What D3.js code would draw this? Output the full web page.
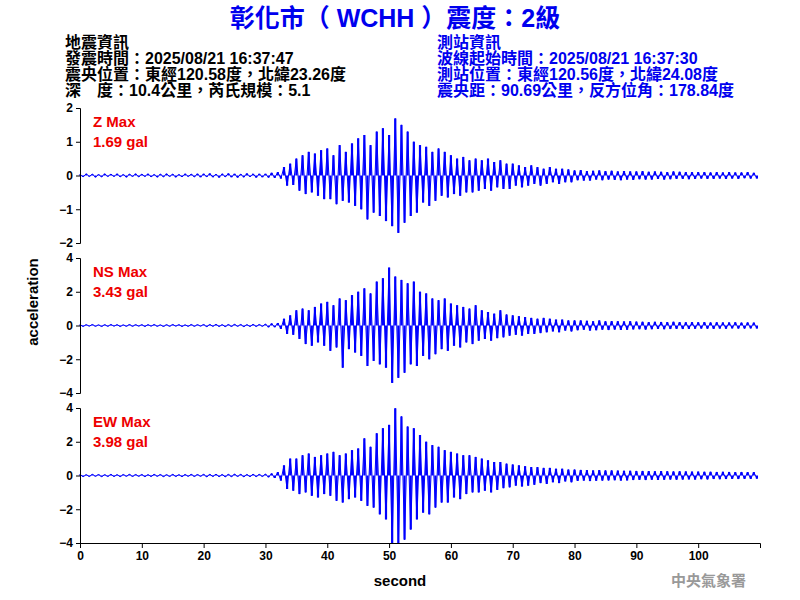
<!DOCTYPE html><html><head><meta charset="utf-8">
<script src="https://cdn.jsdelivr.net/npm/d3@7"></script>
<style>body{margin:0;background:#fff}</style></head><body>
<script>
const dt = 0.5;
const zVals = [.03,-.04,.05,-.03,.04,-.05,.03,-.04,.05,-.03,.04,-.03,.05,-.04,.03,-.05,.04,-.03,.05,-.04,
.04,-.03,.05,-.04,.03,-.05,.04,-.04,.05,-.03,.04,-.05,.03,-.04,.05,-.03,.04,-.04,.05,-.05,
.05,-.04,.06,-.05,.04,-.06,.05,-.04,.06,-.05,.05,-.06,.04,-.05,.06,-.04,.05,-.06,.05,-.05,
.05,-.06,.08,-.07,.1,-.09,.25,-.3,.35,-.28,
.5,-.45,.6,-.55,.7,-.5,.65,-.6,.75,-.7,
.8,-.7,.6,-.85,.9,-.75,.7,-.8,.95,-.9,
1.1,-1.0,1.2,-1.3,.9,-1.1,1.3,-1.2,1.4,-1.35,
1.2,-1.5,1.69,-1.7,1.5,-1.4,1.3,-1.2,1.0,-1.1,
.9,-.8,.85,-.9,.7,-.75,.8,-.6,.7,-.65,
.6,-.55,.5,-.6,.55,-.5,.45,-.5,.5,-.45,
.45,-.4,.5,-.45,.4,-.35,.45,-.4,.35,-.4,
.35,-.3,.3,-.35,.25,-.3,.3,-.25,.25,-.3,.2,-.25,.25,-.2,.2,-.25,.2,-.2,.18,-.2,
.15,-.14,.16,-.15,.13,-.15,.14,-.12,.15,-.14,.13,-.12,.14,-.13,.12,-.14,.13,-.12,.12,-.13,
.12,-.11,.13,-.12,.11,-.12,.12,-.1,.11,-.12,.1,-.11,.12,-.1,.11,-.1,.1,-.11,.1,-.1,
.1,-.09,.1,-.1,.09,-.1,.1,-.09,.09,-.1,.1,-.09,.09,-.1,.09,-.08,.1,-.09,.08,-.09];
const nsVals = [.05,-.06,.05,-.04,.06,-.05,.04,-.06,.05,-.05,.06,-.04,.05,-.06,.04,-.05,.06,-.05,.05,-.04,
.05,-.06,.05,-.04,.06,-.05,.04,-.06,.05,-.05,.06,-.04,.05,-.06,.04,-.05,.06,-.05,.05,-.04,
.06,-.07,.06,-.05,.07,-.06,.05,-.07,.06,-.06,.07,-.05,.06,-.07,.05,-.06,.07,-.06,.06,-.05,
.08,-.1,.12,-.1,.15,-.2,.4,-.5,.6,-.55,
.9,-.8,1.0,-1.1,.9,-1.2,1.1,-1.0,1.3,-1.2,
1.4,-1.5,1.2,-1.3,1.6,-2.5,1.5,-1.4,1.8,-1.6,
2.0,-1.8,2.2,-2.4,1.9,-2.1,2.6,-2.3,2.8,-2.5,
3.43,-3.4,2.9,-3.1,2.7,-2.8,2.5,-2.3,2.6,-2.4,
2.0,-1.8,1.9,-2.0,1.6,-1.7,1.5,-1.4,1.6,-1.5,
1.3,-1.2,1.2,-1.3,1.1,-1.0,1.0,-1.1,1.2,-.9,
.9,-.8,.8,-.9,.7,-.75,.9,-.7,.65,-.6,
.6,-.55,.55,-.6,.5,-.5,.45,-.5,.4,-.45,.45,-.4,.4,-.35,.35,-.4,.35,-.3,.3,-.35,
.3,-.28,.3,-.25,.28,-.3,.25,-.28,.3,-.25,.25,-.27,.26,-.24,.25,-.26,.24,-.25,.25,-.23,
.23,-.22,.22,-.24,.2,-.22,.22,-.2,.21,-.22,.2,-.21,.22,-.2,.2,-.21,.19,-.2,.2,-.19,
.19,-.18,.2,-.19,.18,-.2,.19,-.18,.18,-.19,.18,-.17,.19,-.18,.17,-.18,.18,-.17,.17,-.18];
const ewVals = [.06,-.07,.05,-.06,.07,-.05,.06,-.07,.05,-.06,.07,-.06,.05,-.07,.06,-.05,.07,-.06,.06,-.05,
.06,-.07,.05,-.06,.07,-.05,.06,-.07,.05,-.06,.07,-.06,.05,-.07,.06,-.05,.07,-.06,.06,-.05,
.07,-.08,.07,-.06,.08,-.07,.06,-.08,.07,-.07,.08,-.06,.07,-.08,.06,-.07,.08,-.07,.07,-.06,
.08,-.1,.12,-.15,.2,-.3,.6,-.8,1.0,-.9,
1.0,-1.1,1.2,-1.0,1.3,-1.2,1.1,-1.3,1.2,-1.1,
1.3,-1.2,1.4,-1.5,1.2,-1.6,1.3,-1.4,1.5,-1.3,
1.6,-1.5,2.2,-1.8,1.7,-1.9,2.5,-2.3,2.8,-2.6,
3.0,-4.0,3.98,-4.0,3.5,-3.8,2.9,-3.2,2.8,-2.6,
2.4,-2.2,2.0,-2.3,1.8,-1.9,1.7,-1.6,1.5,-1.6,
1.4,-1.3,1.3,-1.4,1.2,-1.1,1.2,-1.0,1.1,-1.0,
1.0,-.9,.9,-1.0,.8,-.85,.8,-.75,.7,-.7,
.65,-.6,.6,-.65,.55,-.6,.5,-.55,.5,-.45,.45,-.5,.45,-.4,.4,-.45,.4,-.35,.35,-.4,
.35,-.32,.33,-.3,.32,-.33,.3,-.31,.32,-.3,.3,-.29,.3,-.28,.29,-.3,.28,-.29,.28,-.27,
.27,-.26,.27,-.27,.26,-.25,.25,-.26,.26,-.25,.25,-.24,.24,-.25,.25,-.24,.24,-.23,.23,-.24,
.23,-.22,.22,-.23,.22,-.21,.21,-.22,.22,-.21,.21,-.2,.2,-.21,.21,-.2,.2,-.2,.2,-.19];
const panels = [
 {name:"Z Max", max:"1.69 gal", vals:zVals, lim:2, ticks:[-2,-1,0,1,2], top:108},
 {name:"NS Max", max:"3.43 gal", vals:nsVals, lim:4, ticks:[-4,-2,0,2,4], top:258},
 {name:"EW Max", max:"3.98 gal", vals:ewVals, lim:4, ticks:[-4,-2,0,2,4], top:408}];
const xTicks = [0,10,20,30,40,50,60,70,80,90,100];
const leftInfo = ["地震資訊","發震時間：2025/08/21 16:37:47","震央位置：東經120.58度，北緯23.26度","深　度：10.4公里，芮氏規模：5.1"];
const rightInfo = ["測站資訊","波線起始時間：2025/08/21 16:37:30","測站位置：東經120.56度，北緯24.08度","震央距：90.69公里，反方位角：178.84度"];

const svg = d3.select("body").append("svg").attr("width",800).attr("height",600)
  .style("font-family","'Liberation Sans',Arial,'Noto Sans CJK TC',sans-serif");
const x = d3.scaleLinear().domain([0,110]).range([80,760]);
svg.append("text").attr("x",395).attr("y",27).attr("text-anchor","middle").attr("fill","#0000ee")
  .attr("font-size",25).attr("font-weight","bold").style("font-family","'Liberation Sans','Noto Sans CJK TC',sans-serif").text("彰化市（ WCHH ）震度：2級");
leftInfo.forEach((t,i)=>svg.append("text").attr("x",65).attr("y",48+i*16).attr("font-size",16).attr("font-weight","bold")
  .style("font-family","'Liberation Sans','Noto Sans CJK TC',sans-serif").text(t));
rightInfo.forEach((t,i)=>svg.append("text").attr("x",437).attr("y",48+i*16).attr("font-size",16).attr("font-weight","bold").attr("fill","#0000ee")
  .style("font-family","'Liberation Sans','Noto Sans CJK TC',sans-serif").text(t));
panels.forEach(p=>{
  const y = d3.scaleLinear().domain([-p.lim,p.lim]).range([p.top+135,p.top]);
  const g = svg.append("g");
  g.selectAll("line.s").data(p.vals).join("line").attr("class","s")
   .attr("x1",(d,i)=>x(i*dt)).attr("x2",(d,i)=>x(i*dt)).attr("y1",y(0)).attr("y2",d=>y(d))
   .attr("stroke","#0000ff").attr("stroke-width",2.2);
  g.append("path").datum(p.vals).attr("fill","none").attr("stroke","#0000ff").attr("stroke-width",1)
   .attr("d",d3.line().x((d,i)=>x(i*dt)).y(d=>y(d)));
  g.append("g").attr("transform","translate(80,0)").call(d3.axisLeft(y).tickValues(p.ticks).tickFormat(d3.format("d")).tickSize(4))
   .call(a=>{a.selectAll("text").attr("font-size",12).attr("font-weight","bold").attr("fill","#000");a.select(".domain").attr("stroke","#000");});
  g.append("text").attr("x",93).attr("y",p.top+19).attr("fill","#ee0000").attr("font-size",15).attr("font-weight","bold").text(p.name);
  g.append("text").attr("x",93).attr("y",p.top+39).attr("fill","#ee0000").attr("font-size",15).attr("font-weight","bold").text(p.max);
});
svg.append("g").attr("transform","translate(0,543)").call(d3.axisBottom(x).tickValues(xTicks).tickSize(5))
 .call(a=>{a.selectAll("text").attr("font-size",12).attr("font-weight","bold").attr("fill","#000");});
svg.append("text").attr("x",400).attr("y",586).attr("text-anchor","middle").attr("font-size",15).attr("font-weight","bold").text("second");
svg.append("text").attr("transform","translate(38,302) rotate(-90)").attr("text-anchor","middle").attr("font-size",15).attr("font-weight","bold").text("acceleration");
svg.append("text").attr("x",746).attr("y",586).attr("text-anchor","end").attr("fill","#999").attr("font-size",15).attr("font-weight","bold")
 .style("font-family","'Noto Sans CJK TC',serif").text("中央氣象署");
</script></body></html>
